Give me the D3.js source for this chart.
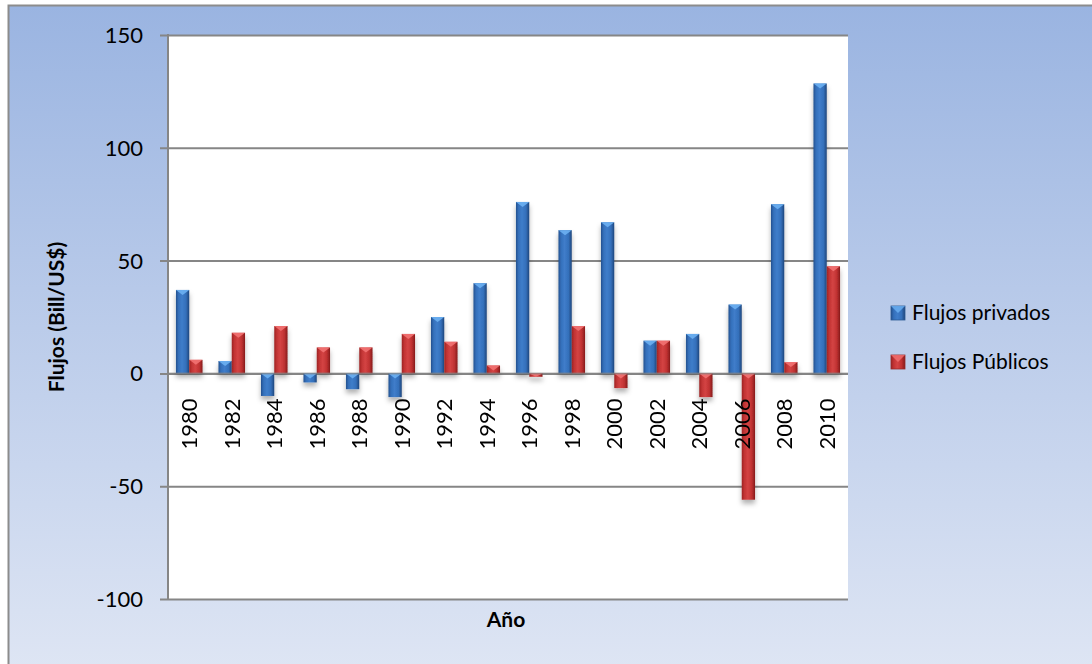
<!DOCTYPE html>
<html>
<head>
<meta charset="utf-8">
<script src="https://cdn.jsdelivr.net/npm/d3@7"></script>
<style>
  html, body { margin: 0; padding: 0; background: #ffffff; }
  svg { display: block; font-family: Lato, "Open Sans", sans-serif; }
</style>
</head>
<body>
<svg id="chart" width="1092" height="664"></svg>
<script>
// Chart data
const years = ["1980","1982","1984","1986","1988","1990","1992","1994","1996","1998","2000","2002","2004","2006","2008","2010"];
const seriesNames = ["Flujos privados", "Flujos Públicos"];
const privados = [37, 5.5, -10, -4, -7, -10.5, 25, 40, 76, 63.5, 67, 14.5, 17.5, 30.5, 75, 128.5];
const publicos = [6, 18, 21, 11.5, 11.5, 17.5, 14, 3.5, -1.5, 21, -6.5, 14.5, -10.5, -56, 5, 47.5];
const yTicks = [150, 100, 50, 0, -50, -100];
const yTitle = "Flujos (Bill/US$)";
const xTitle = "Año";

const svg = d3.select("#chart");
const W = 1092, H = 664;
const plot = { left: 168, right: 848, top: 35, bottom: 599 };

const defs = svg.append("defs");

// Chart area background gradient
const bg = defs.append("linearGradient").attr("id", "bgGrad")
  .attr("x1", 0).attr("y1", 0).attr("x2", 0).attr("y2", 1);
bg.append("stop").attr("offset", "0%").attr("stop-color", "#9ab4e1");
bg.append("stop").attr("offset", "100%").attr("stop-color", "#dfe6f4");

// Cylinder-like shading for each series
const palettes = {
  "Flujos privados": { id: "gBlue", stops: ["#24518f", "#3470bb", "#3f7dca", "#3470bb", "#1f467c"], cap: "#6cb0f2", sw: "#3a78c4" },
  "Flujos Públicos": { id: "gRed", stops: ["#9e2424", "#c23434", "#d44444", "#c03232", "#861b1b"], cap: "#f27272", sw: "#c83a3a" }
};
Object.values(palettes).forEach(p => {
  const g = defs.append("linearGradient").attr("id", p.id)
    .attr("x1", 0).attr("y1", 0).attr("x2", 1).attr("y2", 0);
  const offs = [0, 0.2, 0.45, 0.75, 1];
  p.stops.forEach((c, i) => g.append("stop").attr("offset", offs[i]).attr("stop-color", c));
});

const shadow = defs.append("filter").attr("id", "barShadow")
  .attr("x", "-50%").attr("y", "-10%").attr("width", "200%").attr("height", "130%");
shadow.append("feDropShadow").attr("dx", 0).attr("dy", 4).attr("stdDeviation", 2.5)
  .attr("flood-color", "#000").attr("flood-opacity", 0.3);

// Outer chart frame
svg.append("rect").attr("x", 8.5).attr("y", 5.5).attr("width", W + 10).attr("height", H + 10)
  .attr("fill", "url(#bgGrad)").attr("stroke", "#8c8c8c").attr("stroke-width", 2);

// Plot area
svg.append("rect").attr("x", plot.left).attr("y", plot.top)
  .attr("width", plot.right - plot.left).attr("height", plot.bottom - plot.top)
  .attr("fill", "#ffffff");

const x0 = d3.scaleBand().domain(years).range([plot.left, plot.right]).padding(0);
const x1 = d3.scaleBand().domain(seriesNames).range([0, x0.bandwidth()])
  .paddingInner(0).paddingOuter(0.6);
const y = d3.scaleLinear().domain([-100, 150]).range([plot.bottom, plot.top]);

// Gridlines with outward ticks
const yAxis = d3.axisLeft(y).tickValues(yTicks)
  .tickSize(-(plot.right - plot.left)).tickSizeOuter(0).tickFormat("");
const gy = svg.append("g").attr("transform", `translate(${plot.left},0)`).call(yAxis);
gy.select(".domain").remove();
gy.selectAll(".tick line").attr("stroke", "#868686").attr("stroke-width", 2).attr("x2", plot.right - plot.left).attr("x1", -8);

// Vertical axis line
svg.append("line").attr("x1", plot.left).attr("x2", plot.left)
  .attr("y1", plot.top - 1).attr("y2", plot.bottom + 1)
  .attr("stroke", "#868686").attr("stroke-width", 2);

// Y tick labels
svg.append("g").selectAll("text").data(yTicks).join("text")
  .attr("x", 143).attr("y", d => y(d)).attr("dy", "0.36em")
  .attr("text-anchor", "end").attr("font-size", 22).attr("fill", "#000")
  .text(d => d);

// Bars
const rows = years.map((yr, i) => ({ year: yr, values: [
  { key: seriesNames[0], v: privados[i] },
  { key: seriesNames[1], v: publicos[i] }
]}));

const bars = svg.append("g").attr("filter", "url(#barShadow)");
const groups = bars.selectAll("g").data(rows).join("g")
  .attr("transform", d => `translate(${x0(d.year)},0)`);
const barW = x1.bandwidth();
groups.each(function(d) {
  const g = d3.select(this);
  d.values.forEach(s => {
    const p = palettes[s.key];
    const bx = x1(s.key);
    const top = y(Math.max(0, s.v));
    const h = Math.abs(y(s.v) - y(0));
    g.append("rect").attr("x", bx).attr("y", top).attr("width", barW).attr("height", h)
      .attr("fill", `url(#${p.id})`);
    // bevelled cap
    const capH = Math.min(5, h);
    g.append("path")
      .attr("d", `M${bx},${top}L${bx + barW},${top}L${bx + barW / 2},${top + capH}Z`)
      .attr("fill", p.cap).attr("opacity", 0.9);
  });
});

// Zero line
svg.append("line").attr("x1", plot.left).attr("x2", plot.right)
  .attr("y1", y(0)).attr("y2", y(0)).attr("stroke", "#868686").attr("stroke-width", 2)
  .attr("opacity", 0.6);

// Category labels (rotated)
svg.append("g").selectAll("text").data(years).join("text")
  .attr("transform", d => `translate(${x0(d) + x0.bandwidth() / 2},${y(0) + 25}) rotate(-90)`)
  .attr("dy", "0.36em").attr("text-anchor", "end")
  .attr("font-size", 22).attr("fill", "#000")
  .text(d => d);

// Axis titles
svg.append("text").attr("x", 506).attr("y", 627).attr("text-anchor", "middle")
  .attr("font-size", 21).attr("font-weight", "bold").attr("fill", "#000").text(xTitle);
svg.append("text").attr("transform", `translate(64,317) rotate(-90)`)
  .attr("text-anchor", "middle").attr("font-size", 21).attr("font-weight", "bold")
  .attr("fill", "#000").text(yTitle);

// Legend
const legend = svg.append("g");
seriesNames.forEach((name, i) => {
  const p = palettes[name];
  const ly = 320 + i * 49;
  const lg = legend.append("g");
  lg.append("rect").attr("x", 891).attr("y", ly - 14).attr("width", 14).attr("height", 14)
    .attr("fill", `url(#${p.id})`).attr("stroke", d3.color(p.sw).darker(0.8)).attr("stroke-width", 0.8);
  lg.append("path").attr("d", `M891,${ly - 14}L905,${ly - 14}L898,${ly - 7}Z`).attr("fill", p.cap).attr("opacity", 0.8);
  lg.append("text").attr("x", 912).attr("y", ly).attr("font-size", 21).attr("fill", "#000").text(name);
});
</script>
</body>
</html>
